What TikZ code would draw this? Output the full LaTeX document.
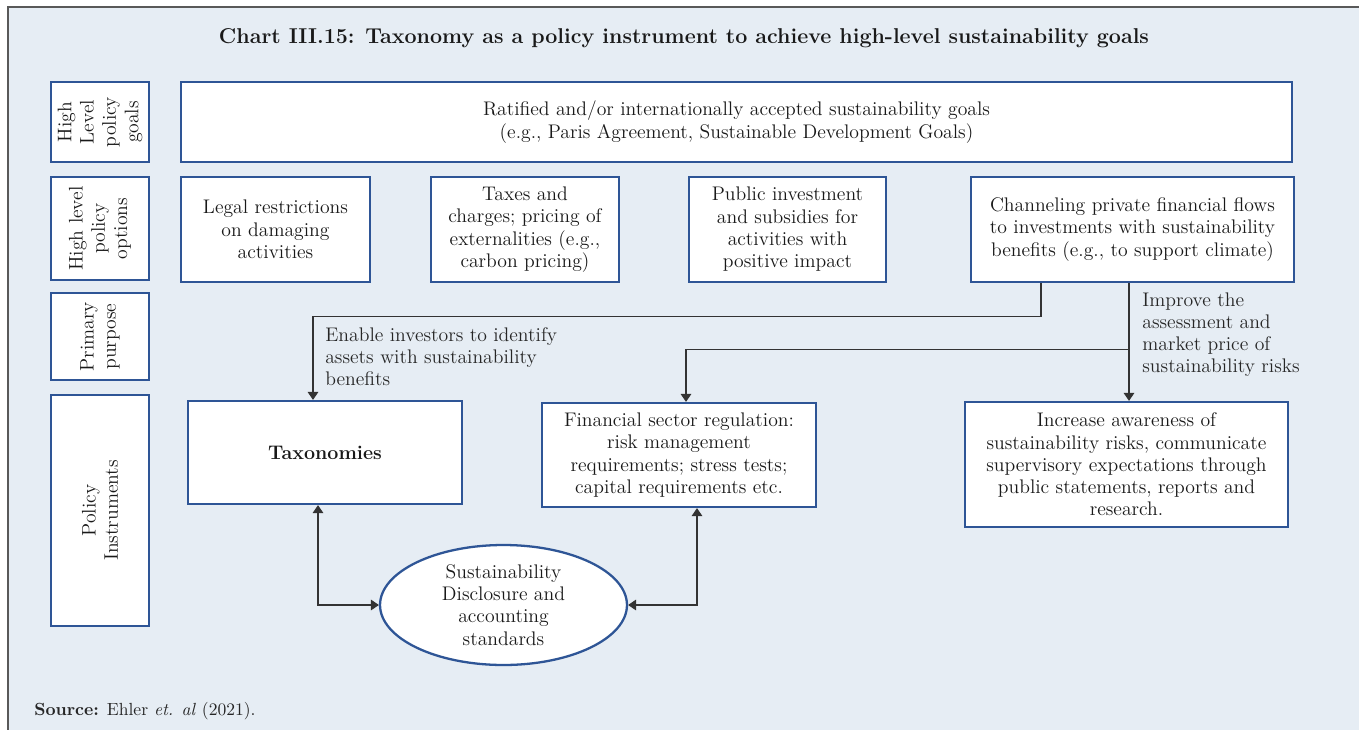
\documentclass[tikz,border=0pt]{standalone}
\usepackage{xcolor}
\usepackage{tikz}
\usetikzlibrary{arrows.meta,positioning,calc,shapes.geometric}
\definecolor{chartbg}{HTML}{E6EDF4}
\definecolor{boxblue}{HTML}{2E5596}
\definecolor{linkgray}{HTML}{333333}

\begin{document}
\begin{tikzpicture}[x=0.02cm, y=-0.02cm,
    box/.style={draw=boxblue, fill=white, line width=1.3pt, align=center, inner sep=2pt, text=black!90, font=\fontsize{11.2}{12.7}\selectfont},
    sidebox/.style={box, rotate=90, minimum height=1.96cm},
    link/.style={-{Triangle[width=6pt,length=4.5pt]}, draw=linkgray, line width=0.7pt},
    twoway/.style={{Triangle[width=6pt,length=4.5pt]}-{Triangle[width=6pt,length=4.5pt]}, draw=linkgray, line width=0.7pt},
    note/.style={anchor=north west, align=left, inner sep=0pt, text=black!85, font=\fontsize{11.2}{12.7}\selectfont}
]
% frame and background
\useasboundingbox (0,0) rectangle (1359,730);
\fill[chartbg] (8,7) rectangle (1359,730);
\draw[black!65, line width=1pt] (8,730) -- (8,7) -- (1359,7);
\node[font=\fontsize{12.2}{14}\selectfont\bfseries, text=black!90] (title) at (684,38) {Chart III.15: Taxonomy as a policy instrument to achieve high-level sustainability goals};

% row labels
\node[sidebox, minimum width=1.6cm] (lgoals) at (100,122) {High\\Level\\policy\\goals};
\node[sidebox, minimum width=2.06cm] (loptions) at (100,228.5) {High level\\policy\\options};
\node[sidebox, minimum width=1.74cm] (lpurpose) at (100,336.5) {Primary\\purpose};
\node[sidebox, minimum width=4.62cm] (linstr) at (100,510.5) {Policy\\Instruments};

% goals and options
\node[box, minimum width=22.22cm, minimum height=1.6cm] (goals) at (736.5,122) {Ratified and/or internationally accepted sustainability goals\\(e.g., Paris Agreement, Sustainable Development Goals)};
\node[box, minimum width=3.78cm, minimum height=2.1cm] (legal) at (275.5,229.5) {Legal restrictions\\on damaging\\activities};
\node[box, minimum width=3.76cm, minimum height=2.1cm] (taxes) at (525,229.5) {Taxes and\\charges; pricing of\\externalities (e.g.,\\carbon pricing)};
\node[box, minimum width=3.94cm, minimum height=2.1cm] (public) at (787.5,229.5) {Public investment\\and subsidies for\\activities with\\positive impact};
\node[box, minimum width=6.46cm, minimum height=2.1cm] (chan) at (1132.5,229.5) {Channeling private financial flows\\to investments with sustainability\\benefits (e.g., to support climate)};

% instruments
\node[box, minimum width=5.48cm, minimum height=2.06cm, font=\fontsize{11.2}{12.7}\selectfont\bfseries] (taxo) at (325,452.5) {Taxonomies};
\node[box, minimum width=5.48cm, minimum height=2.08cm] (fin) at (679,455) {Financial sector regulation:\\risk management\\requirements; stress tests;\\capital requirements etc.};
\node[box, minimum width=6.46cm, minimum height=2.5cm] (inc) at (1126.5,464.5) {Increase awareness of\\sustainability risks, communicate\\supervisory expectations through\\public statements, reports and\\research.};
\node[box, ellipse, minimum width=4.94cm, minimum height=2.4cm, inner sep=0pt] (disc) at (503.5,605) {Sustainability\\Disclosure and\\accounting\\standards};

% connectors
\draw[link] ([xshift=-1.83cm]chan.south) -- ++(0,33) -| ([xshift=-0.24cm]taxo.north);
\draw[link] ([xshift=-0.07cm]chan.south) -- ([xshift=-0.07cm]chan.south |- inc.north);
\draw[link] ([xshift=-0.07cm]chan.south) ++(0,66) -| ([xshift=0.14cm]fin.north);
\draw[twoway] ([xshift=-0.14cm]taxo.south) |- (disc.west);
\draw[twoway] ([xshift=0.36cm]fin.south) |- (disc.east);

% purpose labels
\node[note] (enable) at (325,327) {Enable investors to identify\\assets with sustainability\\benefits};
\node[note] (improve) at (1142,292) {Improve the\\assessment and\\market price of\\sustainability risks};

\node[anchor=west, inner sep=0pt, font=\fontsize{10}{12}\selectfont, text=black!85] (source) at (34,711) {\textbf{Source:} Ehler \textit{et. al} (2021).};
\end{tikzpicture}
\end{document}
